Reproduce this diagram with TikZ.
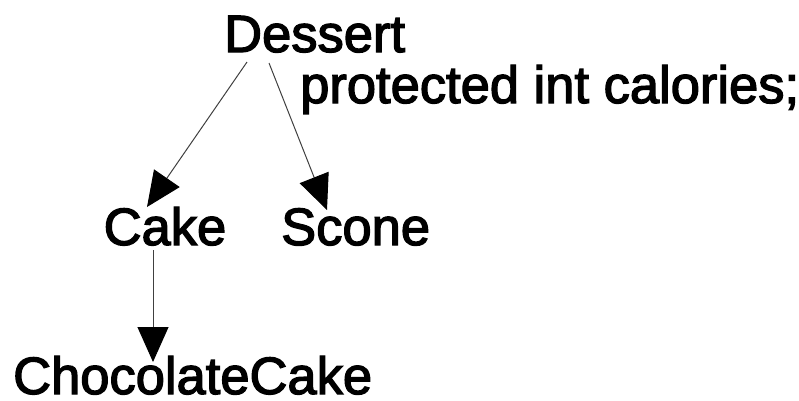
\documentclass[tikz,border=0pt]{standalone}
\usepackage{fontspec}
\setmainfont{Liberation Sans}[FakeBold=2.5]
\usetikzlibrary{arrows.meta}

\begin{document}
\begin{tikzpicture}[x=1pt,y=-1pt]
\tikzset{
  classname/.style={anchor=base west,inner sep=0pt,font=\fontsize{52.5pt}{60pt}\selectfont},
  inherits/.style={-{Triangle[length=35pt,width=31pt,color=black]},line width=1pt,draw=black!75}
}
\useasboundingbox (0,0) rectangle (799,400);
\node[classname] (n_dessert) at (224,52) {Dessert};
\node[classname] (n_field) at (300,103) {protected int calories;};
\node[classname] (n_cake) at (103.5,245) {Cake};
\node[classname] (n_scone) at (281,245) {Scone};
\node[classname] (n_choc) at (13,394) {ChocolateCake};
\draw[inherits] ([xshift=23pt,yshift=-10pt]n_dessert.base west) -- ([xshift=43.5pt,yshift=38pt]n_cake.base west);
\draw[inherits] ([xshift=45pt,yshift=-11pt]n_dessert.base west) -- ([xshift=46pt,yshift=35pt]n_scone.base west);
\draw[inherits] ([xshift=49.5pt,yshift=-5pt]n_cake.base west) -- ([xshift=140pt,yshift=32pt]n_choc.base west);
\end{tikzpicture}
\end{document}
